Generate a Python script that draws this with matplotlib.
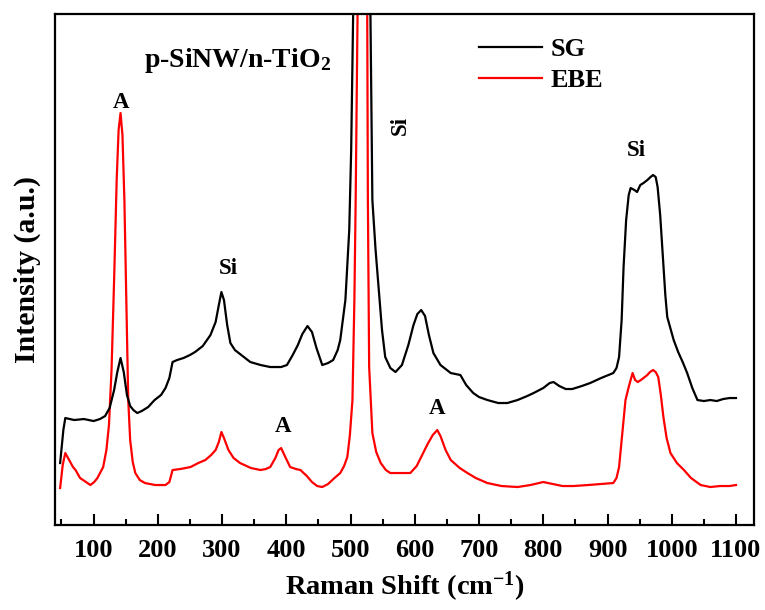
import matplotlib
matplotlib.use("Agg")
import matplotlib.pyplot as plt
from matplotlib.ticker import MultipleLocator

plt.rcParams['font.family'] = ['Liberation Serif', 'DejaVu Serif']
plt.rcParams['font.weight'] = 'bold'
plt.rcParams['mathtext.fontset'] = 'custom'
plt.rcParams['mathtext.rm'] = 'Liberation Serif:bold'
plt.rcParams['mathtext.bf'] = 'Liberation Serif:bold'
plt.rcParams['mathtext.it'] = 'Liberation Serif:bold'

# SG spectrum (Raman shift in cm-1, intensity in a.u.)
sg_shift = [48, 53, 56, 70, 85, 100, 110, 118, 125, 132, 137, 142, 147, 152, 157, 162, 168, 175,
            185, 195, 205, 212, 218, 223, 230, 240, 250, 258, 270, 282, 290, 295, 299, 303, 308,
            313, 320, 330, 344, 360, 375, 383, 392, 401, 410, 418, 425, 433, 440, 447, 456, 465,
            473, 480, 484, 492, 498, 501, 504, 510, 518, 526, 531, 534, 539, 544, 549, 554, 562,
            570, 580, 590, 598, 604, 610, 616, 622, 629, 640, 656, 671, 680, 691, 700, 713, 730,
            744, 760, 775, 785, 800, 810, 816, 825, 835, 845, 860, 873, 890, 909, 914, 918, 922,
            925, 929, 933, 936, 942, 946, 951, 956, 962, 967, 971, 975, 978, 982, 986, 990, 993,
            1000, 1003, 1010, 1017, 1024, 1032, 1040, 1050, 1060, 1070, 1080, 1090, 1100]
sg_int = [62, 95, 107, 105, 106, 104, 106, 109, 117, 135, 153, 167, 153, 130, 119, 115, 112, 114,
          118, 125, 130, 137, 147, 163, 165, 167, 170, 173, 179, 190, 203, 220, 233, 225, 200,
          182, 175, 170, 163, 160, 158, 158, 158, 160, 170, 180, 191, 199, 193, 177, 160, 162,
          165, 175, 185, 225, 295, 375, 511, 725, 925, 725, 511, 325, 275, 235, 195, 168, 157,
          153, 160, 180, 200, 211, 215, 209, 190, 172, 160, 152, 150, 140, 132, 128, 125, 122,
          122, 125, 129, 132, 137, 142, 143, 139, 136, 136, 139, 142, 147, 152, 157, 168, 205,
          258, 305, 330, 337, 335, 333, 340, 342, 345, 348, 350, 348, 338, 310, 270, 230, 208,
          192, 185, 173, 163, 152, 137, 125, 124, 125, 124, 126, 127, 127]

# EBE spectrum
ebe_shift = [48, 52, 56, 62, 68, 72, 79, 86, 95, 101, 106, 111, 115, 120, 124, 128, 132, 136, 139,
             142, 145, 148, 151, 154, 157, 161, 165, 172, 180, 196, 212, 218, 223, 235, 251, 263,
             274, 283, 290, 295, 299, 303, 310, 318, 328, 345, 360, 368, 375, 383, 388, 392, 397,
             406, 415, 422, 432, 440, 448, 456, 465, 475, 484, 490, 495, 499, 503, 506, 508, 511,
             515, 519, 523, 526, 527, 529, 534, 540, 547, 555, 562, 575, 593, 603, 613, 620, 628,
             635, 640, 648, 656, 670, 682, 695, 713, 735, 760, 780, 800, 815, 830, 847, 870, 890,
             909, 914, 918, 922, 928, 933, 939, 943, 947, 952, 956, 962, 966, 971, 975, 979, 983,
             987, 992, 998, 1008, 1019, 1030, 1045, 1060, 1075, 1090, 1100]
ebe_int = [37, 60, 72, 65, 58, 55, 47, 44, 40, 43, 47, 53, 58, 75, 100, 155, 245, 345, 395,
           412, 390, 325, 225, 125, 85, 63, 52, 45, 42, 40, 40, 43, 55, 56, 58, 62,
           65, 70, 75, 83, 93, 87, 75, 67, 62, 57, 55, 56, 58, 67, 75, 77, 70,
           58, 56, 55, 49, 43, 39, 38, 41, 47, 52, 59, 68, 90, 125, 225, 325, 511,
           825, 1025, 825, 511, 325, 158, 92, 73, 62, 55, 52, 52, 52, 59, 72, 81, 90,
           95, 89, 75, 65, 57, 52, 47, 42, 39, 38, 40, 43, 41, 39, 39, 40, 41,
           42, 47, 58, 85, 125, 138, 152, 145, 143, 145, 147, 150, 153, 155, 153, 148, 130,
           108, 87, 72, 62, 55, 47, 40, 38, 39, 39, 40]

xticks = [100, 200, 300, 400, 500, 600, 700, 800, 900, 1000, 1100]

# annotations: (text, x, y, rotation)
peak_labels = [("A", 142, 423, 0), ("Si", 310, 257, 0), ("A", 395, 99, 0),
               ("Si", 578, 400, 90), ("A", 634, 117, 0), ("Si", 945, 375, 0)]

fig = plt.figure(figsize=(7.65, 6.1), dpi=100)
ax = fig.add_axes([0.0719, 0.1393, 0.9137, 0.8377])

l_ebe, = ax.plot(ebe_shift, ebe_int, color='#ff0000', lw=1.6, zorder=2, label='EBE')
l_sg, = ax.plot(sg_shift, sg_int, color='black', lw=1.6, zorder=3, label='SG')

ax.set_xlim(40, 1128)
ax.set_ylim(0, 511)
ax.set_xticks(xticks)
ax.xaxis.set_minor_locator(MultipleLocator(50))
ax.set_yticks([])
ax.tick_params(axis='x', which='major', direction='in', length=8, width=1.5, labelsize=19, pad=10)
ax.tick_params(axis='x', which='minor', direction='in', length=4.5, width=1.5)
for lab in ax.get_xticklabels():
    lab.set_fontweight('bold')
for s in ax.spines.values():
    s.set_linewidth(1.6)

ax.set_xlabel('Raman Shift (cm$^{-1}$)', fontsize=20.5, fontweight='bold', labelpad=6)
ax.set_ylabel('Intensity (a.u.)', fontsize=21.5, fontweight='bold', labelpad=10)

ax.text(324, 465, 'p-SiNW/n-TiO$_{2}$', fontsize=20, fontweight='bold', ha='center', va='center')
for t, x, y, r in peak_labels:
    ax.text(x, y, t, fontsize=16.5, fontweight='bold', ha='center', va='center', rotation=r)

leg = ax.legend(handles=[l_sg, l_ebe], loc='upper left', bbox_to_anchor=(0.58, 0.99),
                frameon=False, fontsize=19, handlelength=2.4, handletextpad=0.3,
                labelspacing=0.3, borderpad=0.2)
for t in leg.get_texts():
    t.set_fontweight('bold')

fig.savefig('out.png', dpi=100)
